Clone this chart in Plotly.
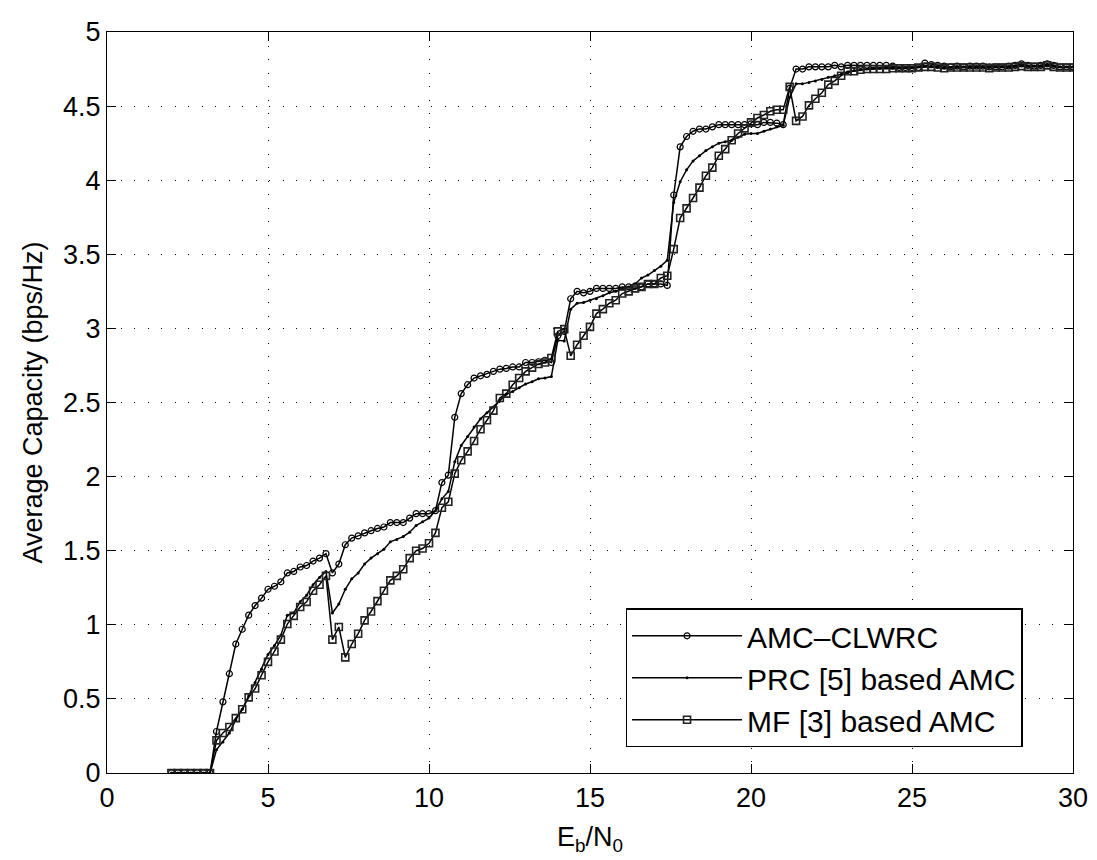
import numpy as np
import plotly.graph_objects as go

# Eb/N0 sample grid (dB)
ebn0 = [round(2.0 + 0.2 * i, 1) for i in range(141)]

amc_clwrc = [
    0, 0, 0, 0, 0, 0, 0,
    0.28, 0.48, 0.67, 0.87, 0.97, 1.065, 1.13, 1.18, 1.24, 1.26,
    1.29, 1.35, 1.36, 1.39, 1.40, 1.43, 1.45, 1.48, 1.35, 1.41,
    1.54, 1.585, 1.60, 1.62, 1.635, 1.65, 1.66, 1.69, 1.69, 1.69,
    1.72, 1.75, 1.75, 1.75, 1.77, 1.96, 2.01, 2.40, 2.56, 2.62,
    2.665, 2.68, 2.69, 2.71, 2.725, 2.73, 2.74, 2.74, 2.77, 2.77,
    2.775, 2.785, 2.77, 2.95, 2.98, 3.20, 3.25, 3.24, 3.25, 3.27,
    3.27, 3.27, 3.27, 3.28, 3.28, 3.285, 3.28, 3.30, 3.30, 3.30,
    3.29, 3.90, 4.225, 4.295, 4.33, 4.345, 4.345, 4.36, 4.375, 4.375,
    4.375, 4.375, 4.375, 4.38, 4.375, 4.39, 4.39, 4.385, 4.375, 4.62,
    4.75, 4.75, 4.765, 4.765, 4.765, 4.765, 4.775, 4.765, 4.775,
    4.775, 4.775, 4.775, 4.775, 4.775, 4.775, 4.77, 4.76, 4.76, 4.76,
    4.76, 4.79, 4.78, 4.775, 4.77, 4.765, 4.77, 4.765, 4.77, 4.77,
    4.77, 4.765, 4.765, 4.765, 4.77, 4.775, 4.785, 4.775, 4.77, 4.775,
    4.785, 4.775, 4.765, 4.765, 4.765,
]

prc_amc = [
    0, 0, 0, 0, 0, 0, 0,
    0.157, 0.21, 0.27, 0.36, 0.43, 0.52, 0.61, 0.70, 0.80, 0.86,
    0.93, 1.065, 1.08, 1.155, 1.20, 1.27, 1.32, 1.36, 1.08, 1.14,
    1.24, 1.31, 1.35, 1.41, 1.45, 1.48, 1.51, 1.56, 1.575, 1.595,
    1.625, 1.67, 1.695, 1.72, 1.77, 1.85, 1.90, 2.10, 2.21, 2.27,
    2.335, 2.39, 2.43, 2.47, 2.51, 2.555, 2.575, 2.60, 2.625, 2.64,
    2.66, 2.665, 2.675, 2.92, 2.915, 3.13, 3.17, 3.175, 3.19, 3.20,
    3.22, 3.24, 3.25, 3.27, 3.28, 3.30, 3.34, 3.36, 3.39, 3.42,
    3.46, 3.85, 3.99, 4.07, 4.13, 4.165, 4.20, 4.225, 4.25, 4.26,
    4.27, 4.29, 4.31, 4.315, 4.315, 4.33, 4.345, 4.36, 4.37, 4.56,
    4.65, 4.65, 4.66, 4.67, 4.68, 4.695, 4.705, 4.715, 4.725,
    4.74, 4.745, 4.75, 4.755, 4.755, 4.76, 4.76, 4.76, 4.76, 4.76,
    4.765, 4.77, 4.77, 4.765, 4.76, 4.76, 4.765, 4.765, 4.765, 4.765,
    4.765, 4.76, 4.765, 4.765, 4.765, 4.77, 4.775, 4.77, 4.77, 4.77,
    4.78, 4.77, 4.765, 4.765, 4.765,
]

mf_amc = [
    0, 0, 0, 0, 0, 0, 0,
    0.22, 0.27, 0.31, 0.37, 0.43, 0.51, 0.57, 0.66, 0.75, 0.82,
    0.90, 1.005, 1.06, 1.12, 1.155, 1.23, 1.27, 1.33, 0.90, 0.985,
    0.78, 0.87, 0.94, 1.03, 1.09, 1.16, 1.23, 1.30, 1.33, 1.375,
    1.45, 1.50, 1.515, 1.55, 1.62, 1.79, 1.83, 2.02, 2.11, 2.17,
    2.24, 2.32, 2.38, 2.445, 2.53, 2.56, 2.62, 2.665, 2.71, 2.735,
    2.76, 2.77, 2.80, 2.98, 2.995, 2.815, 2.89, 2.95, 3.01, 3.10,
    3.13, 3.17, 3.19, 3.235, 3.25, 3.27, 3.28, 3.30, 3.30, 3.34,
    3.355, 3.535, 3.745, 3.81, 3.88, 3.95, 4.03, 4.085, 4.165, 4.21,
    4.27, 4.315, 4.35, 4.39, 4.42, 4.44, 4.465, 4.475, 4.475, 4.63,
    4.40, 4.43, 4.505, 4.55, 4.59, 4.645, 4.67, 4.705, 4.735,
    4.735, 4.745, 4.75, 4.75, 4.75, 4.75, 4.755, 4.755, 4.755, 4.755,
    4.76, 4.765, 4.765, 4.76, 4.755, 4.76, 4.76, 4.76, 4.76, 4.76,
    4.76, 4.755, 4.76, 4.76, 4.76, 4.765, 4.77, 4.765, 4.765, 4.765,
    4.775, 4.765, 4.76, 4.76, 4.76,
]

assert len(amc_clwrc) == len(ebn0), len(amc_clwrc)
assert len(prc_amc) == len(ebn0), len(prc_amc)
assert len(mf_amc) == len(ebn0), len(mf_amc)

x_ticks = [0, 5, 10, 15, 20, 25, 30]
y_ticks = [0, 0.5, 1, 1.5, 2, 2.5, 3, 3.5, 4, 4.5, 5]
y_tick_text = ["0", "0.5", "1", "1.5", "2", "2.5", "3", "3.5", "4", "4.5", "5"]

FONT = "Liberation Sans, Arial, Helvetica, sans-serif"

fig = go.Figure()
fig.add_trace(go.Scatter(
    x=ebn0, y=amc_clwrc, name="AMC\u2013CLWRC", mode="lines+markers",
    line=dict(color="black", width=1.5),
    marker=dict(symbol="circle-open", size=6, color="black", line=dict(width=1.2, color="black")),
))
fig.add_trace(go.Scatter(
    x=ebn0, y=prc_amc, name="PRC [5] based AMC", mode="lines+markers",
    line=dict(color="black", width=1.5),
    marker=dict(symbol="circle", size=3, color="black"),
))
fig.add_trace(go.Scatter(
    x=ebn0, y=mf_amc, name="MF [3] based AMC", mode="lines+markers",
    line=dict(color="black", width=1.5),
    marker=dict(symbol="square-open", size=7, color="#222", line=dict(width=1.6, color="#222")),
))

axis_common = dict(
    showline=True, linecolor="black", linewidth=1.3, mirror="allticks",
    ticks="inside", ticklen=9, tickcolor="black", tickwidth=1,
    showgrid=True, gridcolor="black", gridwidth=1, griddash="1px,12.5px",
    zeroline=False, ticklabeloverflow="allow",
    tickfont=dict(family=FONT, size=27, color="black"),
)

fig.update_xaxes(
    range=[0, 30], tickvals=x_ticks,
    title=dict(text="E<sub>b</sub>/N<sub>0</sub>", font=dict(family=FONT, size=27, color="black"), standoff=15),
    **axis_common,
)
fig.update_yaxes(
    range=[0, 5], tickvals=y_ticks, ticktext=y_tick_text,
    title=dict(text="Average Capacity (bps/Hz)", font=dict(family=FONT, size=27, color="black"), standoff=12),
    **axis_common,
)

# the page body adds an 8px margin, so the figure is offset to land where the reference has it
fig.update_layout(
    width=1089, height=852,
    margin=dict(l=99, r=20, t=9, b=87),
    paper_bgcolor="white", plot_bgcolor="white",
    showlegend=True,
    legend=dict(
        x=0.537, y=0.222, xanchor="left", yanchor="top",
        bgcolor="white", bordercolor="black", borderwidth=1.3,
        font=dict(family=FONT, size=30, color="black"),
        itemwidth=110, tracegroupgap=0,
    ),
)

fig.write_html("out.html")
